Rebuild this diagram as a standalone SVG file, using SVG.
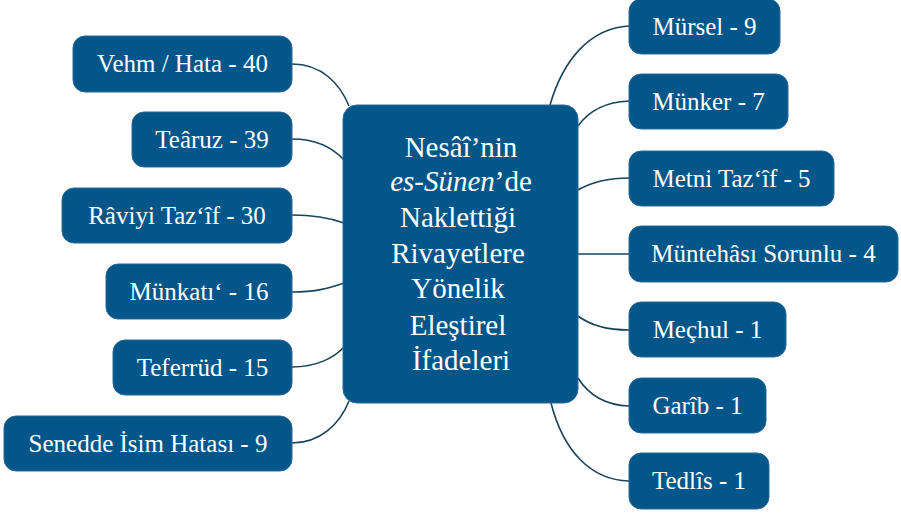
<svg xmlns="http://www.w3.org/2000/svg" width="901" height="513" viewBox="0 0 901 513">
<style>
.box{fill:#03568a;stroke:#2a6a98;stroke-width:1}
.lbl{font-family:'Liberation Serif','Times New Roman',serif;font-size:25px;fill:#ffffff;text-anchor:middle}
.ctr{font-family:'Liberation Serif','Times New Roman',serif;font-size:29px;fill:#ffffff;text-anchor:middle}
.con{fill:none;stroke:#1b4358;stroke-width:1.6}
</style>
<rect width="901" height="513" fill="#ffffff"/>
<g id="connectors">
<path class="con" d="M292 64 C322 64 340 84 349 106"/>
<path class="con" d="M292 139 C316 139 333 148 344 160"/>
<path class="con" d="M292 215 C316 215 330 218 344 223"/>
<path class="con" d="M292 292 C316 292 330 288 344 283"/>
<path class="con" d="M292 367 C316 367 334 358 344 347"/>
<path class="con" d="M292 443 C320 443 340 424 349 401"/>
<path class="con" d="M629 26 C590 28 563 60 550 105"/>
<path class="con" d="M629 101 C604 102 588 112 578 126"/>
<path class="con" d="M629 178 C605 178 590 183 578 190"/>
<path class="con" d="M629 254 L578 254"/>
<path class="con" d="M629 330 C606 330 590 325 578 316"/>
<path class="con" d="M629 406 C604 405 588 394 578 378"/>
<path class="con" d="M629 481 C590 480 563 450 551 403"/>
</g>
<g id="center">
<rect class="box" x="343" y="105" width="235" height="298" rx="14"/>
<text class="ctr" x="461" y="157">Nesâî’nin</text>
<text class="ctr" x="461" y="191"><tspan font-style="italic">es-Sünen</tspan>’de</text>
<text class="ctr" x="458" y="227">Naklettiği</text>
<text class="ctr" x="458" y="263">Rivayetlere</text>
<text class="ctr" x="458" y="298">Yönelik</text>
<text class="ctr" x="458" y="335">Eleştirel</text>
<text class="ctr" x="461" y="370">İfadeleri</text>
</g>
<g id="n-vehm"><rect class="box" x="73" y="36" width="219" height="56" rx="12"/><text class="lbl" x="182.5" y="72">Vehm / Hata - 40</text></g>
<g id="n-tearuz"><rect class="box" x="132" y="112" width="160" height="55" rx="12"/><text class="lbl" x="212" y="148">Teâruz - 39</text></g>
<g id="n-raviyi"><rect class="box" x="62" y="188" width="230" height="55" rx="12"/><text class="lbl" x="177" y="224">Râviyi Taz‘îf - 30</text></g>
<g id="n-munkati"><rect class="box" x="106" y="264" width="186" height="55" rx="12"/><text class="lbl" x="199" y="300">Münkatı‘ - 16</text></g>
<g id="n-teferrud"><rect class="box" x="113" y="340" width="179" height="55" rx="12"/><text class="lbl" x="202.5" y="376">Teferrüd - 15</text></g>
<g id="n-senedde"><rect class="box" x="4" y="416" width="288" height="55" rx="12"/><text class="lbl" x="148" y="452">Senedde İsim Hatası - 9</text></g>
<g id="n-mursel"><rect class="box" x="629" y="-1" width="151" height="55" rx="12"/><text class="lbl" x="704.5" y="35">Mürsel - 9</text></g>
<g id="n-munker"><rect class="box" x="629" y="74" width="159" height="55" rx="12"/><text class="lbl" x="708.5" y="110">Münker - 7</text></g>
<g id="n-metni"><rect class="box" x="629" y="151" width="205" height="55" rx="12"/><text class="lbl" x="731.5" y="187">Metni Taz‘îf - 5</text></g>
<g id="n-muntehasi"><rect class="box" x="629" y="226" width="269" height="56" rx="12"/><text class="lbl" x="763.5" y="262">Müntehâsı Sorunlu - 4</text></g>
<g id="n-mechul"><rect class="box" x="629" y="302" width="157" height="55" rx="12"/><text class="lbl" x="707.5" y="338">Meçhul - 1</text></g>
<g id="n-garib"><rect class="box" x="629" y="378" width="137" height="55" rx="12"/><text class="lbl" x="697.5" y="414">Garîb - 1</text></g>
<g id="n-tedlis"><rect class="box" x="629" y="453" width="140" height="56" rx="12"/><text class="lbl" x="699" y="489">Tedlîs - 1</text></g>
</svg>
